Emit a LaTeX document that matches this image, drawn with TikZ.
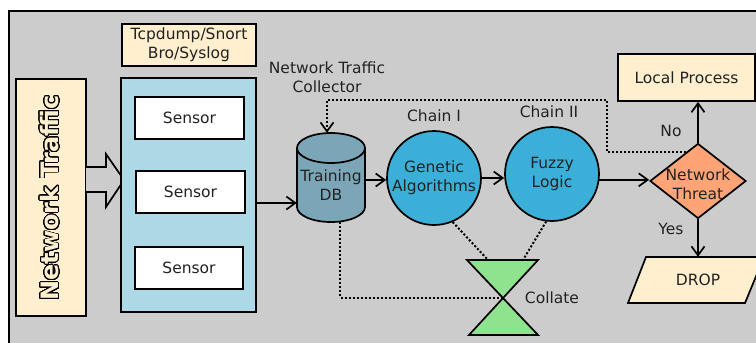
\documentclass[tikz,border=0pt]{standalone}
\usepackage{fontspec}
\setmainfont{DejaVu Sans}
\usepackage{contour}
\usetikzlibrary{shapes.geometric,arrows.meta,calc}
\definecolor{bg}{HTML}{CCCCCC}
\definecolor{cream}{HTML}{FFEFCE}
\definecolor{lblue}{HTML}{ADD8E6}
\definecolor{dbc}{HTML}{7BA6B8}
\definecolor{circ}{HTML}{3BAFD7}
\definecolor{diac}{HTML}{FFA477}
\definecolor{hgc}{HTML}{90E38E}
\definecolor{txt}{HTML}{222222}
\contourlength{0.8pt}
\contournumber{32}
\begin{document}
\begin{tikzpicture}[x=1pt,y=-1pt,
  every node/.style={font=\fontsize{15.5}{19}\selectfont, text=txt},
  box/.style={draw, line width=1.7pt, inner sep=0pt},
  tip/.style={-{Straight Barb[length=9pt,width=13pt,line width=1.7pt]}},
  arr/.style={line width=1.7pt, tip},
  dotline/.style={line width=2pt, dash pattern=on 2pt off 2pt},
  circnode/.style={circle, draw, line width=1.7pt, fill=circ, minimum size=94pt, inner sep=0pt, align=center}]
\useasboundingbox (0,0) rectangle (756,343);
\fill[white] (0,0) rectangle (756,343);
\draw[line width=1.8pt, fill=bg] (9,11) rectangle (800,400);

% Network traffic
\node[box, fill=cream, minimum width=70pt, minimum height=237pt] (nt) at (51,197.5) {};
\node[rotate=90, text=cream, font=\fontsize{24}{26}\selectfont\bfseries, inner sep=0pt] (ntt) at (50,198) {\contour{black}{Network Traffic}};
\draw[line width=1.7pt, fill=bg] (86,167) -- (106,167) -- (106,154) -- (124,180) -- (106,207) -- (106,192) -- (86,192);

% Sensors
\node[box, fill=cream, minimum width=134pt, minimum height=42pt, align=center] (tcp) at (189,45) {Tcpdump/Snort\\Bro/Syslog};
\node[box, fill=lblue, minimum width=135pt, minimum height=234pt] (sb) at (188.5,195) {};
\node[box, fill=white, minimum width=109pt, minimum height=42pt] (s1) at (189.5,118) {Sensor};
\node[box, fill=white, minimum width=109pt, minimum height=42pt] (s2) at (190.5,192) {Sensor};
\node[box, fill=white, minimum width=108pt, minimum height=42pt] (s3) at (189,268) {Sensor};

% Training DB
\node[minimum width=68pt, minimum height=89pt, inner sep=0pt] (db) at (331,177.5) {};
\draw[line width=1.7pt, fill=dbc] (297,148) -- (297,207) arc[start angle=180, end angle=360, x radius=34pt, y radius=15pt] -- (365,148) arc[start angle=0, end angle=180, x radius=34pt, y radius=15pt] -- cycle;
\draw[line width=1.7pt] (297,148) arc[start angle=180, end angle=360, x radius=34pt, y radius=15pt];
\node[align=center] (dbt) at (331,185) {Training\\DB};
\node[align=center] (col) at (327,77) {Network Traffic\\Collector};

% Chains
\node[circnode] (ga) at (434,178) {Genetic\\Algorithms};
\node (c1) at (434,116) {Chain I};
\node[circnode] (fz) at (552,174) {Fuzzy\\Logic};
\node (c2) at (549,112) {Chain II};

% Decision
\node[diamond, draw, line width=1.7pt, fill=diac, minimum width=96pt, minimum height=75pt, inner sep=0pt] (dia) at (698,181) {};
\node[align=center] (diat) at (698,184) {Network\\Threat};
\node[box, fill=cream, minimum width=137pt, minimum height=47pt] (lp) at (686.5,77.5) {Local Process};
\draw[line width=1.7pt, fill=cream] (646,257) -- (764,257) -- (745,303) -- (628,303) -- cycle;
\node[minimum height=46pt, inner sep=0pt] (drop) at (698,280) {DROP};
\node (no) at (671,131) {No};
\node (yes) at (671,229) {Yes};

% Collate
\coordinate (hg) at (503,297.5);
\coordinate (hgl) at (488,260);
\coordinate (hgr) at (523,260);
\draw[dotline] (ga.-67) -- (hgl);
\draw[dotline] (fz.-97) -- (hgr);
\draw[dotline] ([xshift=9pt]db.south) |- (hg);
\draw[line width=1.7pt, fill=hgc] (467,260) -- (538,260) -- (469,335) -- (538,335) -- cycle;
\node (colt) at (552,298) {Collate};

% Connectors
\draw[arr] ([yshift=-8pt]sb.east) -- ([yshift=-8pt]sb.east -| db.west);
\draw[arr] ([yshift=-2.5pt]db.east) -- ([yshift=-2.5pt]db.east -| ga.west);
\draw[arr] (ga.east) -- (ga.east -| fz.west);
\draw[arr] (fz.-7) -- (fz.-7 -| dia.west);
\draw[arr] (dia.north) -- (dia.north |- lp.south);
\draw[arr] (dia.south) -- (dia.south |- drop.north);
\draw[dotline, tip] (dia.112) -| (607,100) -| ([xshift=-4pt]db.north);
\end{tikzpicture}
\end{document}
